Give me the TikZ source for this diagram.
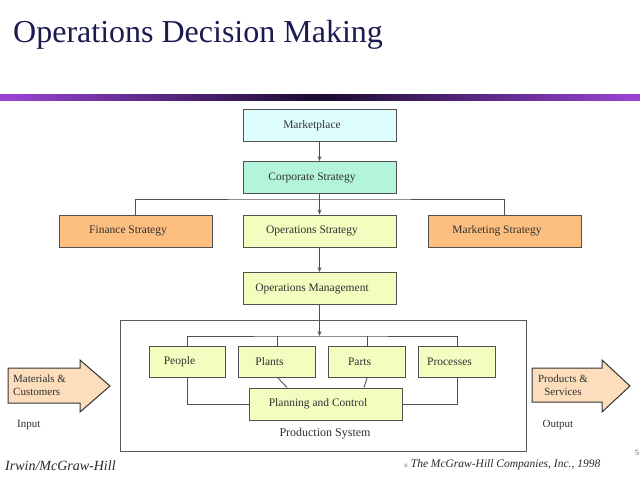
\documentclass[tikz,border=0pt]{standalone}
\usepackage{fontspec}
\setmainfont{Liberation Serif}
\usetikzlibrary{arrows.meta}
\definecolor{titleblue}{HTML}{1B1B4F}
\definecolor{barpurple}{HTML}{9B45D6}
\definecolor{bardark}{HTML}{1A0A30}
\definecolor{boxline}{HTML}{505050}
\definecolor{boxtext}{HTML}{303030}
\definecolor{cyanfill}{HTML}{DFFFFF}
\definecolor{aquafill}{HTML}{B2F5DA}
\definecolor{orangefill}{HTML}{FDBF80}
\definecolor{yellowfill}{HTML}{F5FCC0}
\definecolor{peachfill}{HTML}{FCDDBC}
\tikzset{
  box/.style={draw=boxline, line width=1pt, minimum width=153pt, minimum height=32pt,
    inner sep=0pt, font=\fontsize{11.5}{13}\selectfont, text=boxtext,
    execute at end node=\hspace*{15pt}},
  smallbox/.style={box, minimum width=77pt, minimum height=31pt},
  conn/.style={draw=boxline, line width=0.9pt},
  arr/.style={conn, -{Stealth[length=5pt,width=4pt]}},
  bigarrow/.style={draw=black!80, line width=1pt, fill=peachfill, line join=miter},
  plain/.style={font=\fontsize{11}{13}\selectfont, text=boxtext, inner sep=0pt},
}
\begin{document}
\begin{tikzpicture}[x=1pt,y=-1pt]
\useasboundingbox (0,0) rectangle (640,480);
% title and bar
\node[anchor=base west, font=\fontsize{32}{38}\selectfont, text=titleblue, inner sep=0pt] (title) at (13,42) {Operations Decision Making};
\shade[left color=barpurple, right color=barpurple, middle color=bardark] (0,94) rectangle (640,100);
% top hierarchy
\node[box, fill=cyanfill] (mkt) at (319.5,125.5) {Marketplace};
\node[box, fill=aquafill] (corp) at (319.5,177.5) {Corporate Strategy};
\node[box, fill=orangefill] (fin) at (135.5,231) {Finance Strategy};
\node[box, fill=yellowfill] (ops) at (319.5,231) {Operations Strategy};
\node[box, fill=orangefill] (mkg) at (504.5,231) {Marketing Strategy};
\node[box, fill=yellowfill] (opm) at (319.5,288.5) {Operations Management};
\coordinate (j1) at (319.5,199);
\draw[arr] (mkt) -- (corp);
\draw[arr] (corp) -- (ops);
\draw[conn] (fin.north) |- (j1) -| (mkg.north);
\draw[arr] (ops) -- (opm);
% production system
\node[draw=black!65, line width=0.9pt, minimum width=406pt, minimum height=131pt, inner sep=0pt] (prod) at (323,385.5) {};
\node[plain, font=\fontsize{12}{14}\selectfont] (prodlabel) at (325,434) {Production System};
\node[smallbox, minimum width=76pt, fill=yellowfill] (people) at (187,361.5) {People};
\node[smallbox, fill=yellowfill] (plants) at (277,362) {Plants};
\node[smallbox, fill=yellowfill] (parts) at (367,362) {Parts};
\node[smallbox, fill=yellowfill] (procs) at (457,362) {Processes};
\node[box, fill=yellowfill] (plan) at (325.5,404) {Planning and Control};
\coordinate (j2) at (319.5,336);
\draw[arr] (opm.south) -- (j2);
\draw[conn] (people.north) |- (j2) -| (procs.north);
\draw[conn] (plants.north) -- (plants.north |- j2);
\draw[conn] (parts.north) -- (parts.north |- j2);
\draw[conn] (people.south) |- (plan.west);
\draw[conn] (procs.south) |- (plan.east);
\draw[conn] ([xshift=1pt]plants.south) -- ([xshift=-38.5pt]plan.north);
\draw[conn] (parts.south) -- ([xshift=38.5pt]plan.north);
% input / output arrows
\draw[bigarrow] (8,368) -- (80,368) -- (80,360) -- (110,386) -- (80,412) -- (80,403) -- (8,403) -- cycle;
\node[plain, anchor=west, align=left] (inmat) at (13,385) {Materials \&\\Customers};
\draw[bigarrow] (532,368) -- (602,368) -- (602,360) -- (630,386) -- (602,412) -- (602,402) -- (532,402) -- cycle;
\node[plain, align=center] (outprod) at (563,385) {Products \&\\Services};
\node[plain, anchor=west] (input) at (17,425) {Input};
\node[plain] (output) at (558,425) {Output};
% footer
\node[anchor=west, font=\fontsize{14}{16}\selectfont\itshape, text=black!85, inner sep=0pt] (irwin) at (5,466) {Irwin/McGraw-Hill};
\node[anchor=west, font=\fontsize{11.5}{14}\selectfont\itshape, text=black!85, inner sep=0pt] (copy) at (404,465) {{\fontsize{5}{6}\selectfont\textcopyright}\ The McGraw-Hill Companies, Inc., 1998};
\node[font=\fontsize{8}{10}\selectfont, text=black!70, inner sep=0pt] (pagenum) at (637,453) {5};
\end{tikzpicture}
\end{document}
